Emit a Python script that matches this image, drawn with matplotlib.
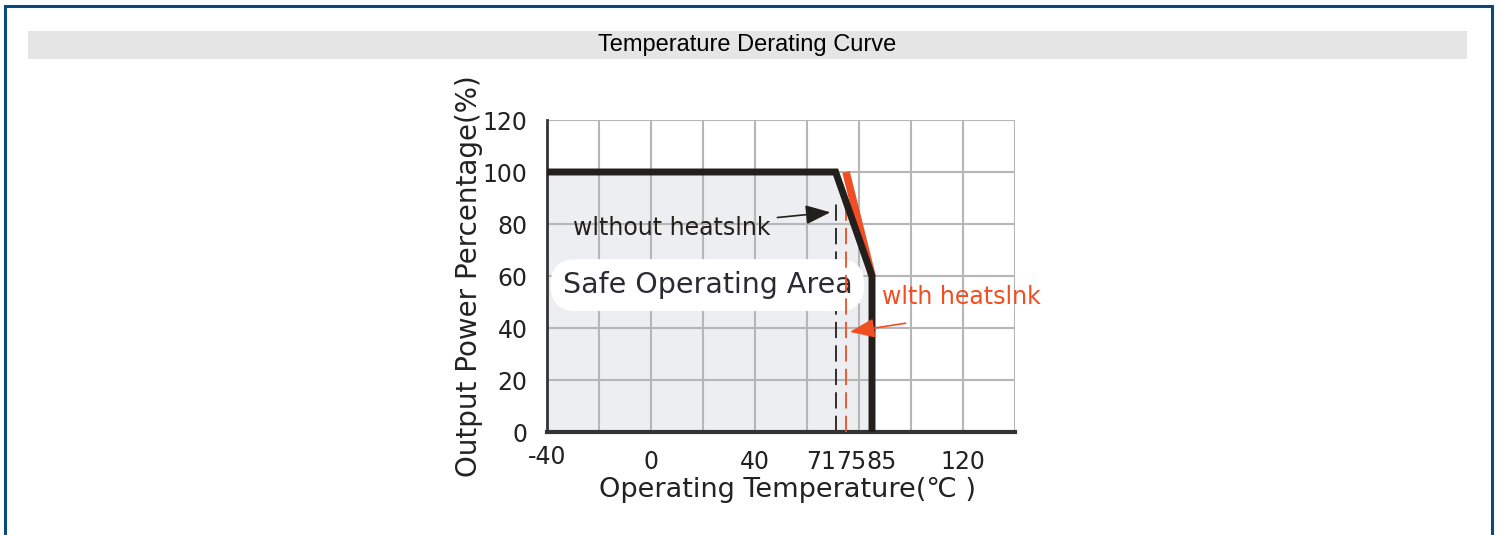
import matplotlib
matplotlib.use('Agg')
import matplotlib.pyplot as plt
from matplotlib.patches import Rectangle
from matplotlib.transforms import ScaledTranslation

# derating curves (temperature in C, output power in %)
temp_without = [-40, 71, 85, 85]
power_without = [100, 100, 60, 0]
temp_with = [75, 85]
power_with = [100, 60]

x_ticks = [-40, 0, 40, 71, 75, 85, 120]
x_tick_labels = ['-40', '0', '40', '71', '75', '85', '120']
y_ticks = [0, 20, 40, 60, 80, 100, 120]
x_grid = list(range(-40, 141, 20))
y_grid = list(range(20, 121, 20))

black = '#231f1c'
orange = '#f04e23'

fig = plt.figure(figsize=(14.99, 5.35), dpi=100)

# outer frame and title band
fig.patches.append(Rectangle((5 / 1499, -0.1), 1487 / 1499, 1.1 - 6 / 535,
                             transform=fig.transFigure, fill=False,
                             edgecolor='#0c4a7e', linewidth=2.2))
fig.patches.append(Rectangle((28 / 1499, 1 - 59 / 535), 1439 / 1499, 28 / 535,
                             transform=fig.transFigure, facecolor='#e5e5e5',
                             edgecolor='none'))
fig.text(747 / 1499, 1 - 45 / 535, 'Temperature Derating Curve',
         ha='center', va='center', fontsize=17, family='Liberation Sans')

ax = fig.add_axes([547 / 1499, 1 - 432 / 535, 468 / 1499, 312 / 535])
ax.set_xlim(-40, 140)
ax.set_ylim(0, 120)

ax.fill_between(temp_without, power_without, 0, color='#edeef1', zorder=0)

ax.vlines(x_grid[1:], 0, 120, color='#b6b6b6', linewidth=1.5, zorder=1)
ax.hlines(y_grid, -40, 140, color='#b6b6b6', linewidth=1.5, zorder=1)

ax.set_xticks(x_ticks)
ax.set_xticklabels(x_tick_labels)
ax.set_yticks(y_ticks)
ax.tick_params(length=0)
ax.tick_params(axis='x', pad=13, labelsize=17, labelcolor='#222222')
ax.tick_params(axis='y', pad=14, labelsize=17, labelcolor='#222222')
labels = ax.get_xticklabels()
labels[3].set_ha('right')
labels[4].set_ha('left')
labels[4].set_transform(labels[4].get_transform() +
                        ScaledTranslation(-10 / 100, 0, fig.dpi_scale_trans))
labels[5].set_ha('left')
labels[5].set_transform(labels[5].get_transform() +
                        ScaledTranslation(-6 / 100, 0, fig.dpi_scale_trans))
labels[0].set_transform(labels[0].get_transform() +
                        ScaledTranslation(0, 5 / 100, fig.dpi_scale_trans))

for side in ['top', 'right']:
    ax.spines[side].set_visible(False)
ax.spines['left'].set_linewidth(2)
ax.spines['left'].set_color('#333333')
ax.spines['bottom'].set_linewidth(3)
ax.spines['bottom'].set_color('#333333')

# dashed markers for the derating start points
ax.plot([71, 71], [0, 88], color=black, linewidth=1.3, dashes=(9, 4), zorder=2)
ax.plot([75, 75], [0, 88], color=orange, linewidth=1.3, dashes=(9, 4), zorder=4)

ax.plot(temp_with, power_with, color=orange, linewidth=5.5,
        solid_capstyle='butt', zorder=5)
ax.plot(temp_without, power_without, color=black, linewidth=5,
        solid_joinstyle='miter', zorder=6)

ax.text(-34, 56.5, 'Safe Operating Area', fontsize=20.5, color='#2b2b33',
        va='center', ha='left', zorder=3,
        bbox=dict(boxstyle='round,pad=0.42,rounding_size=0.9',
                  facecolor='white', edgecolor='none'))

ax.annotate('wlthout heatslnk', xy=(69, 84.5), xytext=(-30, 78.5),
            fontsize=17, color=black, va='center', ha='left', zorder=7,
            arrowprops=dict(arrowstyle='-|>,head_length=0.9,head_width=0.35',
                            color=black, linewidth=1.2, shrinkA=3, shrinkB=0))
ax.annotate('wlth heatslnk', xy=(76.5, 38.5), xytext=(88.8, 52),
            fontsize=17, color=orange, va='center', ha='left', zorder=7,
            arrowprops=dict(arrowstyle='-|>,head_length=0.9,head_width=0.35',
                            color=orange, linewidth=1.2, shrinkA=0, shrinkB=0,
                            relpos=(0.15, -0.6)))

ax.set_xlabel('Operating Temperature(℃ )', fontsize=19.5, color='#222222')
ax.xaxis.set_label_coords(0.514, -0.186)
ax.xaxis.label.set_va('center')
ax.set_ylabel('Output Power Percentage(%)', fontsize=20, labelpad=0,
              color='#222222')

fig.savefig('out.png', dpi=100)
